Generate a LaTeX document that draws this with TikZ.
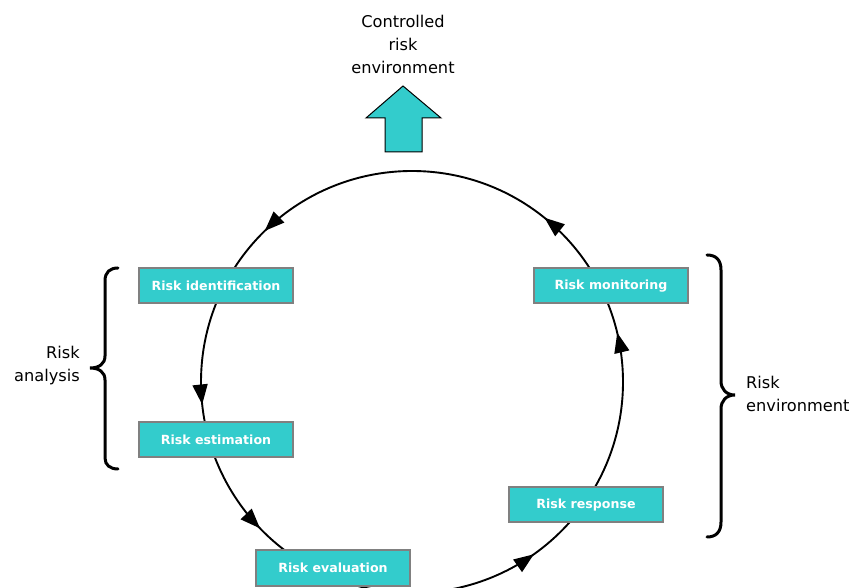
\documentclass[tikz,border=0pt]{standalone}
\usepackage{fontspec}
\setmainfont{DejaVu Sans}
\usetikzlibrary{arrows.meta,decorations.markings}
\definecolor{teal1}{HTML}{33CCCC}
\definecolor{boxgray}{HTML}{808080}
\tikzset{
  x=1pt,y=1pt,
  riskbox/.style={draw=boxgray,line width=2pt,fill=teal1,minimum width=154pt,minimum height=35pt,
    inner sep=0pt,text=white,font=\fontsize{12.6}{14}\selectfont\bfseries},
  lbl/.style={font=\fontsize{16.2}{23}\selectfont,inner sep=0pt},
  brc/.style={line width=3pt,line cap=round},
  cyc/.style={line width=1.9pt},
  tri/.tip={Triangle[length=20pt,width=15pt]}
}
\begin{document}
\begin{tikzpicture}
\useasboundingbox (0,0) rectangle (854,588);
\clip (0,0) rectangle (854,588);
\coordinate (c) at (412,206);
% cycle
\draw[cyc,decoration={markings,
  mark=at position 0.0375 with {\arrow{tri}},
  mark=at position 0.142 with {\arrow{tri}},
  mark=at position 0.373 with {\arrow{tri}},
  mark=at position 0.517 with {\arrow{tri}},
  mark=at position 0.622 with {\arrow{tri}},
  mark=at position 0.848 with {\arrow{tri}}},postaction={decorate}]
  (c) ++(0:211) arc[start angle=0,end angle=360,radius=211];
% boxes
\node[riskbox] (ident) at (216,302) {Risk identification};
\node[riskbox] (monit) at (611,302) {Risk monitoring};
\node[riskbox] (estim) at (216,148) {Risk estimation};
\node[riskbox,minimum height=36pt] (evalu) at (333,20) {Risk evaluation};
\node[riskbox] (respo) at (586,83) {Risk response};
% up arrow
\draw[fill=teal1,line width=1pt] (385,436) -- (385,470) -- (366,470) -- (403,502) -- (441,470) -- (422,470) -- (422,436) -- cycle;
\node[lbl,align=center] (ctrl) at (403,544) {Controlled\\risk\\environment};
% left brace
\draw[brc] (118,320) .. controls (110,320) and (105,316) .. (105,307) -- (105,232)
  .. controls (105,224) and (99,220) .. (90,220)
  .. controls (99,220) and (105,216) .. (105,208) -- (105,130)
  .. controls (105,123) and (110,119) .. (118,119);
\node[lbl,align=right,anchor=east] (ana) at (80,222) {Risk\\analysis};
% right brace
\draw[brc] (707,333) .. controls (716,333) and (721,328) .. (721,318) -- (721,207)
  .. controls (721,199) and (726,193) .. (735,193)
  .. controls (726,193) and (721,187) .. (721,179) -- (721,66)
  .. controls (721,56) and (716,51) .. (707,51);
\node[lbl,align=left,anchor=west] (env) at (746,194) {Risk\\environment};
\end{tikzpicture}
\end{document}
